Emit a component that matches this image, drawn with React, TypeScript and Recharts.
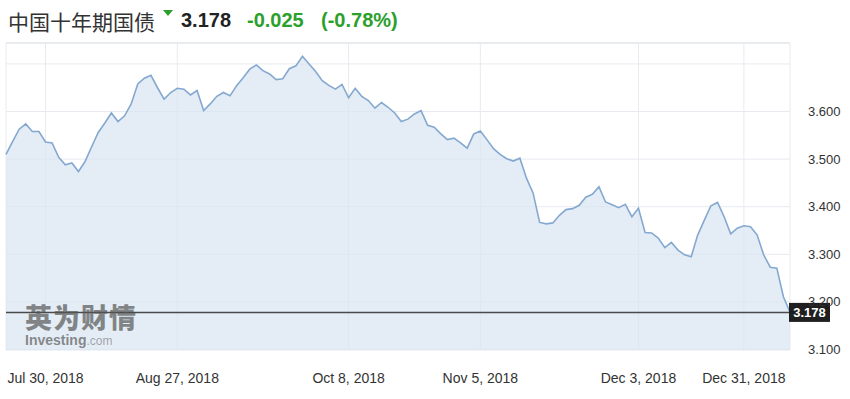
import React from "react";
import { AreaChart, Area, XAxis, YAxis, CartesianGrid, ReferenceLine } from "recharts";

// ---- data ----
const titleText = "中国十年期国债";
const yields = [
  3.510, 3.537, 3.563, 3.574, 3.558, 3.558, 3.536, 3.534, 3.504, 3.488,
  3.492, 3.474, 3.495, 3.526, 3.556, 3.576, 3.597, 3.579, 3.591, 3.616,
  3.658, 3.670, 3.676, 3.650, 3.626, 3.640, 3.649, 3.647, 3.635, 3.644,
  3.602, 3.616, 3.632, 3.640, 3.633, 3.654, 3.671, 3.689, 3.698, 3.686,
  3.679, 3.667, 3.669, 3.690, 3.696, 3.716, 3.700, 3.684, 3.665, 3.655,
  3.647, 3.657, 3.629, 3.649, 3.632, 3.623, 3.607, 3.619, 3.609, 3.597,
  3.579, 3.584, 3.595, 3.602, 3.571, 3.567, 3.553, 3.541, 3.544, 3.534,
  3.523, 3.553, 3.559, 3.541, 3.522, 3.510, 3.501, 3.496, 3.502, 3.460,
  3.429, 3.367, 3.364, 3.366, 3.382, 3.394, 3.396, 3.403, 3.420, 3.426,
  3.442, 3.410, 3.404, 3.398, 3.405, 3.379, 3.397, 3.346, 3.345, 3.334,
  3.314, 3.325, 3.309, 3.299, 3.295, 3.341, 3.372, 3.402, 3.409, 3.379,
  3.343, 3.355, 3.360, 3.358, 3.341, 3.299, 3.273, 3.271, 3.211, 3.178,
];
const xTickIndex = [6, 26, 52, 72, 96, 112];
const xTickLabels = ["Jul 30, 2018", "Aug 27, 2018", "Oct 8, 2018", "Nov 5, 2018", "Dec 3, 2018", "Dec 31, 2018"];
const yTicks = [3.1, 3.2, 3.3, 3.4, 3.5, 3.6, 3.7];
const yLabelMax = 3.6;
const yMin = 3.099;
const yMax = 3.744;
const dailyChange = -0.025;
const dailyChangePct = -0.78;

const lastValue = yields[yields.length - 1];
const tableData = yields.map((v, i) => ({ i, v }));

const FONT = "'Liberation Sans', Arial, Helvetica, sans-serif";
const GREEN = "#2ba02b";

const XTick = (props: any) => {
  const { x, y, payload } = props;
  const idx = xTickIndex.indexOf(payload.value);
  return (
    <text x={x} y={y + 25} textAnchor="middle" fontSize={14} fill="#333" fontFamily={FONT}>
      {xTickLabels[idx]}
    </text>
  );
};

const YTick = (props: any) => {
  const { x, y, payload } = props;
  if (payload.value > yLabelMax + 1e-9) return null;
  return (
    <text x={x + 10} y={y + 4.5} textAnchor="start" fontSize={13} fill="#333" fontFamily={FONT}>
      {payload.value.toFixed(3)}
    </text>
  );
};

const LastLabel = (props: any) => {
  const vb = props.viewBox || {};
  const bx = vb.x + vb.width - 1;
  const by = vb.y;
  return (
    <g>
      <rect x={bx} y={by - 9.5} width={41} height={19} fill="#1f1f1f" />
      <text x={bx + 20.5} y={by + 5} textAnchor="middle" fontSize={13} fontWeight="bold" fill="#fff" fontFamily={FONT}>
        {lastValue.toFixed(3)}
      </text>
    </g>
  );
};

export default function App() {
  return (
    <div style={{ position: "absolute", left: 0, top: 0, width: 850, height: 399, background: "#fff", fontFamily: FONT }}>
      <AreaChart width={850} height={399} data={tableData} margin={{ top: 43, right: 0, bottom: 0, left: 6 }}>
        <CartesianGrid stroke="#e7eaef" strokeWidth={1} />
        <XAxis
          dataKey="i"
          type="number"
          domain={[0, yields.length - 1]}
          ticks={xTickIndex}
          interval={0}
          tick={<XTick />}
          tickLine={false}
          axisLine={false}
          height={49}
          allowDecimals
        />
        <YAxis
          orientation="right"
          type="number"
          domain={[yMin, yMax]}
          ticks={yTicks}
          interval={0}
          tick={<YTick />}
          tickLine={false}
          axisLine={false}
          width={60}
          allowDataOverflow
        />
        <ReferenceLine y={yMax} stroke="#e6e8eb" strokeWidth={1.5} />
        <Area
          type="linear"
          dataKey="v"
          stroke="#84a8d0"
          strokeWidth={1.6}
          fill="#d9e6f2"
          fillOpacity={0.7}
          dot={false}
          activeDot={false}
          isAnimationActive={false}
        />
        <ReferenceLine y={lastValue} stroke="#4a4a4a" strokeWidth={1.5} label={<LastLabel />} />
      </AreaChart>

      <svg width={850} height={40} style={{ position: "absolute", left: 0, top: 0 }}>
        <text x={8} y={30} fontSize={21} fill="#333" fontFamily="'Noto Sans CJK SC', sans-serif">{titleText}</text>
        <polygon points="163,10 173,10 168,16" fill={GREEN} />
        <text x={181} y={27} fontSize={20} fontWeight="bold" fill="#222" fontFamily={FONT}>{lastValue.toFixed(3)}</text>
        <text x={247} y={27} fontSize={20} fontWeight="bold" fill={GREEN} fontFamily={FONT}>{dailyChange.toFixed(3)}</text>
        <text x={321} y={27} fontSize={20} fontWeight="bold" fill={GREEN} fontFamily={FONT}>({dailyChangePct.toFixed(2)}%)</text>
      </svg>

      <div style={{ position: "absolute", left: 25, top: 303, fontSize: 27, lineHeight: "27px", height: 27, fontWeight: 900, color: "rgba(85,85,85,0.7)", fontFamily: "'Noto Sans CJK SC', sans-serif", letterSpacing: 1, pointerEvents: "none" }}>
        英为财情
      </div>
      <div style={{ position: "absolute", left: 25, top: 334, fontSize: 13, lineHeight: "12px", height: 12, pointerEvents: "none", fontFamily: FONT }}>
        <span style={{ fontWeight: "bold", fontSize: 14, color: "rgba(100,100,100,0.75)" }}>Investing</span>
        <span style={{ fontSize: 12, color: "rgba(130,130,130,0.7)" }}>.com</span>
      </div>
    </div>
  );
}
